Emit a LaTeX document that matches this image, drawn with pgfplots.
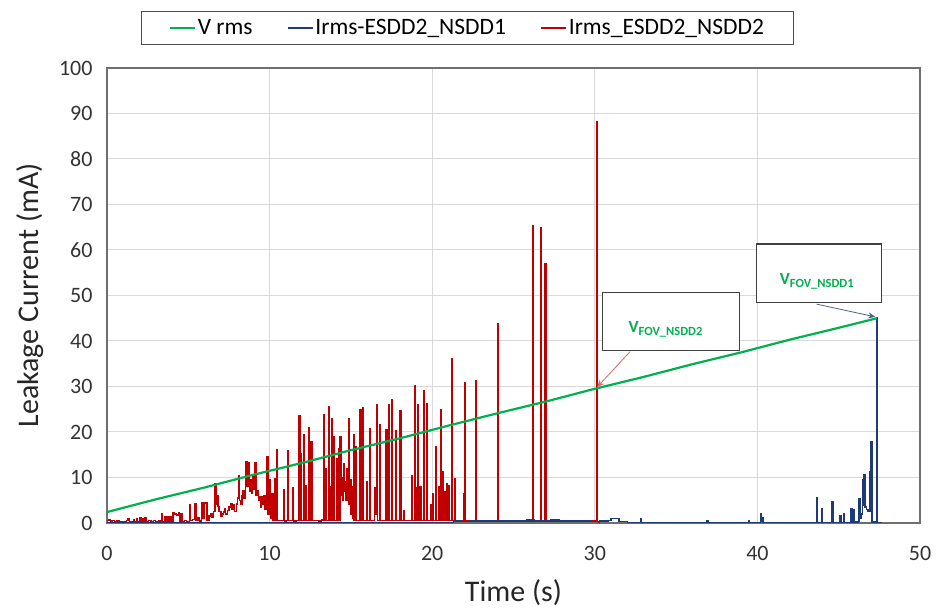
\documentclass[border=0pt]{standalone}
\usepackage{fontspec}
\setmainfont{Carlito}
\usepackage{pgfplots}
\pgfplotsset{compat=1.18}
\usetikzlibrary{arrows.meta}
\definecolor{vgreen}{HTML}{00B050}
\definecolor{iblue}{HTML}{1F3A78}
\definecolor{ired}{HTML}{C00000}
\definecolor{gridc}{HTML}{D9D9D9}
\definecolor{framec}{HTML}{6F6F6F}
\newcommand{\vlab}[1]{{\fontsize{17}{20}\selectfont\bfseries V}{\fontsize{12.5}{14}\selectfont\bfseries\raisebox{-3pt}{#1}}}

\begin{document}
\begin{tikzpicture}
\begin{axis}[
  at={(107pt,89pt)}, anchor=south west,
  scale only axis, width=813pt, height=455pt,
  xmin=0, xmax=50, ymin=0, ymax=100,
  xtick={0,10,...,50}, ytick={0,10,...,100},
  major tick length=0pt,
  grid=major, grid style={gridc, line width=1pt},
  axis line style={framec, line width=1.2pt},
  /pgf/number format/assume math mode=true,
  tick label style={font=\fontsize{22}{26}\selectfont, text=black!80},
  xticklabel style={yshift=-20pt},
  yticklabel style={xshift=-11pt},
  xlabel={Time (s)}, ylabel={Leakage Current (mA)},
  every axis x label/.style={at={(axis description cs:0.5,0)}, anchor=center, yshift=-70pt,
    font=\fontsize{30}{36}\selectfont, text=black!85},
  every axis y label/.style={at={(axis description cs:0,0.5)}, anchor=center, rotate=90, yshift=77pt,
    font=\fontsize{30}{36}\selectfont, text=black!85},
  legend style={at={(0.4434,1.088)}, anchor=center, legend columns=3,
    draw=black!70, line width=1pt, font=\fontsize{23.5}{27}\selectfont,
    inner ysep=6pt, inner xsep=28pt,
    nodes={inner xsep=1.5pt},
    /tikz/every even column/.append style={column sep=33pt}},
  legend cell align=left,
  legend image code/.code={\draw[#1] (0pt,0pt) -- (25pt,0pt);},
]
\addlegendimage{vgreen, line width=1.8pt}
\addlegendentry{V rms}
\addlegendimage{iblue, line width=1.8pt}
\addlegendentry{Irms-ESDD2\_NSDD1}
\addlegendimage{ired, line width=1.8pt}
\addlegendentry{Irms\_ESDD2\_NSDD2}

% Irms_ESDD2_NSDD2
\addplot[ired, line width=1.4pt, const plot, forget plot] coordinates {
(0.00,0.5)(0.10,0.7)(0.20,0.3)(0.30,0.6)(0.45,0.2)(0.60,0.4)(0.75,0.2)(0.90,0.3)(1.05,0.2)(1.20,0.5)
(1.30,0.9)(1.38,0.2)(1.55,0.3)(1.62,0.8)(1.70,0.3)(1.80,0.9)(1.88,0.2)(2.00,1.2)(2.08,0.3)(2.15,1.0)
(2.25,0.4)(2.32,1.2)(2.40,0.3)(2.55,0.5)(2.70,0.3)(2.85,0.6)(3.00,0.2)(3.15,0.4)(3.30,0.3)(3.36,2.1)
(3.42,0.3)(3.55,1.3)(3.62,0.4)(3.75,1.4)(3.82,0.3)(3.90,1.3)(3.96,0.3)(4.05,2.2)(4.12,1.9)(4.20,2.1)
(4.28,1.8)(4.38,2.2)(4.45,0.4)(4.55,2.1)(4.62,0.3)(4.75,0.6)(4.90,0.3)(5.06,4.0)(5.12,0.5)(5.25,0.8)
(5.41,4.3)(5.48,0.5)(5.60,1.2)(5.70,0.4)(5.82,4.5)(5.88,1.0)(5.96,4.4)(6.03,4.5)(6.10,4.4)(6.16,0.6)
(6.28,1.5)(6.35,2.0)(6.45,1.2)(6.55,2.5)(6.64,8.7)(6.70,4.0)(6.75,6.1)(6.82,3.6)(6.90,2.5)(7.00,1.4)
(7.08,2.0)(7.15,2.4)(7.21,3.2)(7.30,2.0)(7.40,2.8)(7.50,3.5)(7.60,4.3)(7.68,3.0)(7.75,4.0)(7.85,2.5)
(7.95,4.2)(8.02,5.5)(8.08,10.5)(8.15,5.0)(8.22,4.2)(8.30,6.0)(8.35,7.2)(8.42,5.5)(8.50,8.0)(8.55,13.5)
(8.62,8.0)(8.69,13.2)(8.76,7.0)(8.84,9.5)(8.90,6.5)(8.96,10.2)(9.02,7.5)(9.10,13.2)(9.16,6.0)(9.22,7.2)
(9.30,5.0)(9.38,5.8)(9.45,3.5)(9.50,5.8)(9.58,4.0)(9.65,6.0)(9.72,3.0)(9.83,14.6)(9.90,2.0)(9.98,9.5)
(10.05,1.0)(10.12,6.5)(10.20,0.5)(10.33,9.8)(10.38,0.5)(10.42,16.0)(10.48,0.5)(10.65,0.6)(10.84,7.3)(10.90,0.4)
(11.05,0.6)(11.10,15.8)(11.16,0.5)(11.30,0.6)(11.42,7.7)(11.48,0.4)(11.65,0.5)(11.80,23.5)(11.86,0.5)(11.92,15.3)
(11.98,0.5)(12.09,19.3)(12.15,0.6)(12.22,8.2)(12.28,0.6)(12.38,21.0)(12.44,0.5)(12.54,17.9)(12.60,0.5)(12.80,0.6)
(13.00,0.4)(13.20,0.7)(13.30,23.7)(13.35,0.5)(13.40,12.0)(13.46,0.5)(13.61,25.5)(13.66,0.5)(13.72,8.0)(13.76,0.5)
(13.81,23.0)(13.86,0.5)(13.91,19.0)(13.96,0.5)(14.11,14.1)(14.16,0.5)(14.22,16.4)(14.27,0.5)(14.33,19.0)(14.38,6.0)
(14.45,10.0)(14.50,5.0)(14.55,13.1)(14.60,7.0)(14.65,9.0)(14.70,5.0)(14.76,12.0)(14.80,6.0)(14.84,23.0)(14.88,4.0)
(14.95,9.5)(15.00,2.0)(15.07,8.0)(15.11,1.0)(15.15,19.3)(15.20,0.5)(15.31,16.7)(15.36,0.5)(15.56,24.8)(15.61,0.5)
(15.72,25.4)(15.77,0.5)(15.95,9.0)(16.00,0.5)(16.13,20.8)(16.18,0.5)(16.45,7.7)(16.50,2.0)(16.59,25.9)(16.64,0.5)
(16.75,21.5)(16.80,0.5)(17.16,20.6)(17.21,0.5)(17.30,25.9)(17.35,0.5)(17.50,27.2)(17.55,0.5)(17.74,20.2)(17.79,0.5)
(18.02,24.7)(18.07,0.5)(18.22,2.6)(18.27,0.5)(18.74,10.5)(18.80,0.5)(18.94,30.1)(18.99,0.5)(19.04,7.7)(19.08,0.5)
(19.10,25.9)(19.15,0.5)(19.25,8.0)(19.30,0.5)(19.45,29.0)(19.50,0.5)(19.64,26.3)(19.69,0.5)(19.90,4.0)(19.95,0.5)
(20.02,6.5)(20.07,0.5)(20.23,16.8)(20.28,0.5)(20.38,8.0)(20.42,0.5)(20.52,24.8)(20.57,0.5)(20.64,11.3)(20.68,0.5)
(20.75,6.9)(20.80,0.5)(20.89,8.7)(20.94,0.5)(21.00,8.3)(21.05,0.5)(21.20,36.2)(21.25,0.5)(21.40,9.8)(21.45,0.5)
(21.92,6.5)(21.95,0.5)(21.98,30.9)(22.03,0.4)(22.69,31.2)(22.74,0.4)(24.01,43.7)(24.06,0.4)(26.17,65.3)(26.22,0.4)
(26.68,64.8)(26.73,0.4)(26.94,56.9)(26.99,0.4)(30.10,88.3)(30.16,0.3)(30.25,0.0)
};

% Irms-ESDD2_NSDD1
\addplot[iblue, line width=1.5pt, const plot, forget plot] coordinates {
(0,0)(21,0)(21.3,0.4)(21.8,0.3)(22.3,0.5)(22.8,0.4)(23.3,0.6)(23.8,0.5)(24.3,0.4)(24.8,0.6)
(25.3,0.5)(25.8,0.7)(26.3,0.5)(26.8,0.6)(27.3,0.7)(27.8,0.5)(28.3,0.4)(28.8,0.5)(29.3,0.4)(29.8,0.3)
(30.3,0.4)(30.8,0.6)(31.0,1.0)(31.3,1.0)(31.5,0.3)(32.0,0.1)(32.75,0.1)(32.8,1.0)(32.85,0.1)(36.85,0.1)
(36.9,0.6)(36.95,0.1)(39.4,0.1)(39.45,0.5)(39.5,0.1)(40.15,0.1)(40.2,2.0)(40.25,0.3)(40.3,1.2)(40.35,0.1)
(43.6,0.1)(43.65,5.6)(43.7,0.1)(43.9,0.1)(43.95,3.2)(44.0,0.1)(44.55,0.1)(44.6,4.7)(44.65,0.1)(45.03,0.1)
(45.08,1.5)(45.13,0.1)(45.23,0.1)(45.28,2.1)(45.33,0.1)(45.7,0.1)(45.76,3.2)(45.82,0.2)(45.9,2.9)(45.95,0.2)
(46.2,0.3)(46.25,5.4)(46.3,1.0)(46.4,2.0)(46.45,9.5)(46.5,4.0)(46.57,10.7)(46.62,3.5)(46.7,3.0)(46.8,2.5)
(46.93,11.3)(46.96,2.5)(46.99,17.9)(47.04,0.2)(47.32,0.2)(47.35,45.0)(47.39,0.1)(47.6,0)
};

% V rms
\addplot[vgreen, line width=2.2pt, forget plot] coordinates {
(0,2.4)(3,5.2)(6,7.8)(9,10.6)(12,13.2)(15,16.0)(18,18.6)(21,21.4)(24,24.1)(27,26.7)
(30,29.5)(33,32.1)(36,34.9)(39,37.5)(42,40.3)(45,42.9)(47.35,45.0)
};

% annotations
\draw[ired!60, line width=0.8pt, -{Stealth[length=7pt,width=6pt]}] (axis cs:32.17,37.65) -- (axis cs:30.15,29.9);
\draw[iblue!80, line width=0.8pt, -{Stealth[length=7pt,width=6pt]}] (axis cs:43.65,48.1) -- (axis cs:47.25,45.3);
\draw[black!75, fill=white, line width=1.2pt] (axis cs:30.48,37.87) rectangle (axis cs:38.88,50.6);
\draw[black!75, fill=white, line width=1.2pt] (axis cs:39.96,48.4) rectangle (axis cs:47.64,61.3);
\node[text=vgreen] at (axis cs:34.35,42.6) {\vlab{FOV\_NSDD2}};
\node[text=vgreen] at (axis cs:43.65,53.2) {\vlab{FOV\_NSDD1}};
\end{axis}
\pgfresetboundingbox
\useasboundingbox (0,0) rectangle (938pt,612pt);
\end{tikzpicture}
\end{document}
